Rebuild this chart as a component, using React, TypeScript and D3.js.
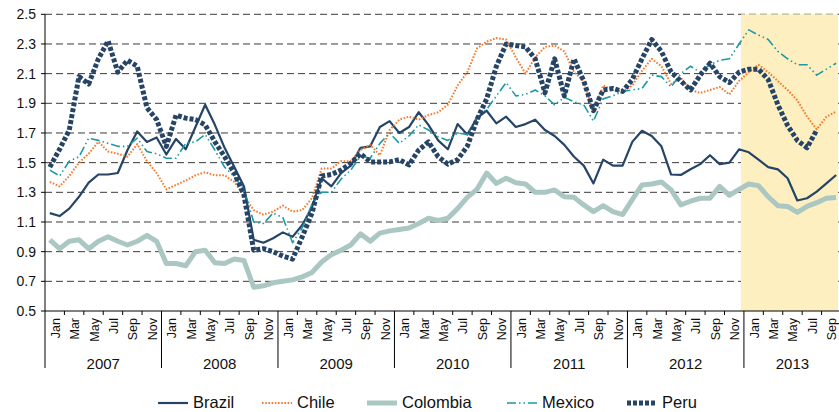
import React from "react";
import * as d3 from "d3";

const years = [2007, 2008, 2009, 2010, 2011, 2012, 2013];
const monthLabels = ["Jan", "Mar", "May", "Jul", "Sep", "Nov"];
const yTicks = [0.5, 0.7, 0.9, 1.1, 1.3, 1.5, 1.7, 1.9, 2.1, 2.3, 2.5];
const monthCount = 82; // Jan 2007 - Oct 2013
const shadeStartIndex = 72; // Jan 2013

const brazil = [
  1.16, 1.14, 1.19, 1.27, 1.365, 1.42, 1.42, 1.43, 1.585, 1.71, 1.64, 1.67,
  1.555, 1.66, 1.59, 1.74, 1.89, 1.755, 1.6, 1.47, 1.34, 0.98, 0.96, 0.99,
  1.03, 1.0, 1.08, 1.2, 1.395, 1.34, 1.43, 1.48, 1.6, 1.61, 1.74, 1.78,
  1.7, 1.74, 1.84, 1.755, 1.65, 1.59, 1.76, 1.69, 1.8, 1.85, 1.765, 1.81,
  1.74, 1.76, 1.79, 1.72, 1.68, 1.62, 1.54, 1.48, 1.36, 1.52, 1.48, 1.48,
  1.64, 1.715, 1.68, 1.61, 1.42, 1.417, 1.455, 1.49, 1.55, 1.49, 1.5, 1.59,
  1.57, 1.52, 1.47, 1.455, 1.395, 1.245, 1.26, 1.305, 1.36, 1.417,
];
const chile = [
  1.37, 1.34, 1.41, 1.5, 1.56, 1.64, 1.575, 1.56, 1.54, 1.625, 1.51, 1.43,
  1.32, 1.35, 1.38, 1.415, 1.435, 1.415, 1.415, 1.37, 1.28, 1.18, 1.15, 1.17,
  1.21, 1.17, 1.18, 1.26, 1.46, 1.46, 1.51, 1.51, 1.585, 1.62, 1.55, 1.72,
  1.79, 1.81, 1.79, 1.82, 1.84, 1.89, 2.02, 2.11, 2.27, 2.316, 2.34, 2.33,
  2.21, 2.1, 2.21, 2.28, 2.29, 2.25, 2.11, 2.05, 1.84, 2.02, 1.99, 1.98,
  2.02, 2.12, 2.2, 2.15, 2.03, 2.07, 1.99, 1.97, 1.99, 2.01, 1.96, 2.05,
  2.11, 2.16, 2.11, 2.05, 1.99, 1.92, 1.81, 1.725, 1.81, 1.845,
];
const colombia = [
  0.98, 0.92, 0.97, 0.98, 0.92, 0.97, 1.0, 0.97, 0.945, 0.97, 1.01, 0.97,
  0.82, 0.82, 0.805, 0.9, 0.91, 0.825, 0.82, 0.85, 0.84, 0.66, 0.67, 0.69,
  0.7, 0.71, 0.73, 0.76, 0.83, 0.88, 0.91, 0.945, 1.02, 0.97, 1.025, 1.04,
  1.05, 1.06, 1.09, 1.125, 1.11, 1.125, 1.19, 1.266, 1.32, 1.43, 1.36, 1.395,
  1.365, 1.356, 1.3, 1.3, 1.316, 1.27, 1.266, 1.215, 1.17, 1.21, 1.17, 1.15,
  1.25, 1.35, 1.356, 1.37, 1.316, 1.215, 1.24, 1.26, 1.26, 1.34, 1.28, 1.32,
  1.356, 1.345, 1.27, 1.21, 1.205, 1.165, 1.205, 1.23, 1.26, 1.265,
];
const mexico = [
  1.45, 1.41, 1.51, 1.54, 1.665, 1.65, 1.63, 1.61, 1.61, 1.665, 1.575, 1.56,
  1.53, 1.53, 1.63, 1.64, 1.69, 1.585, 1.47, 1.405, 1.32, 1.1, 1.09, 1.16,
  1.13, 0.96, 1.06, 1.22, 1.3, 1.3, 1.39, 1.45, 1.545, 1.53, 1.63, 1.7,
  1.63, 1.68, 1.755, 1.72, 1.675, 1.65, 1.7, 1.69, 1.81, 1.86, 1.95, 2.04,
  1.95, 1.96, 1.99, 1.95, 1.89, 1.94, 1.91, 1.89, 1.78, 1.93, 1.95, 1.98,
  1.99, 2.0, 2.09, 2.08, 2.01, 2.1, 2.15, 2.11, 2.16, 2.19, 2.2, 2.3,
  2.395, 2.36, 2.33, 2.25, 2.2, 2.16, 2.16, 2.09, 2.13, 2.17,
];
const peru: (number | null)[] = [
  1.47, 1.59, 1.72, 2.08, 2.03, 2.2, 2.32, 2.11, 2.19, 2.15, 1.87, 1.79,
  1.61, 1.82, 1.8, 1.79, 1.755, 1.64, 1.54, 1.43, 1.28, 0.91, 0.92, 0.9,
  0.87, 0.85, 1.0, 1.16, 1.41, 1.42, 1.45, 1.495, 1.56, 1.505, 1.505, 1.505,
  1.52, 1.485, 1.585, 1.64, 1.54, 1.49, 1.52, 1.61, 1.79, 1.93, 2.15, 2.3,
  2.29, 2.28, 2.2, 1.97, 2.2, 1.95, 2.2, 2.05, 1.85, 1.99, 2.0, 1.98,
  2.06, 2.2, 2.33, 2.25, 2.11, 2.05, 1.99, 2.09, 2.17, 2.08, 2.04, 2.11,
  2.13, 2.13, 2.06, 1.89, 1.75, 1.65, 1.6, 1.72, null, null,
];

const seriesNames = ["Brazil", "Chile", "Colombia", "Mexico", "Peru"];
const seriesData = [brazil, chile, colombia, mexico, peru];

const navy = "#264466";
const styles = [
  { color: navy, width: 2.2, dash: undefined as string | undefined, cap: "butt" },
  { color: "#f47a2e", width: 2, dash: "1.6 1.6", cap: "butt" },
  { color: "#abc7c4", width: 5, dash: undefined, cap: "butt" },
  { color: "#1a9aa7", width: 1.6, dash: "9 3 1.5 3 1.5 3", cap: "butt" },
  { color: navy, width: 5, dash: "4 2", cap: "butt" },
];
const legendX = [158, 262, 367, 507, 627];

const W = 839;
const H = 412;
const left = 45;
const right = 841;
const top = 14.3;
const bottom = 311;
const font = "'Liberation Sans', Arial, sans-serif";

export default function App() {
  const x = d3.scaleLinear().domain([0, monthCount]).range([left, right]);
  const y = d3.scaleLinear().domain([0.5, 2.5]).range([bottom, top]);
  const axisY = y(0.5);

  const line = d3
    .line<number | null>()
    .defined((d) => d !== null)
    .x((_, i) => x(i + 0.5))
    .y((d) => y(d as number));

  const tickIdx = d3.range(0, monthCount + 1, 2);
  const labelIdx = d3.range(0, monthCount - 1, 2);

  return (
    <svg
      width={W}
      height={H}
      style={{ position: "absolute", left: 0, top: 0, background: "#fff" }}
      fontFamily={font}
    >
      {/* gridlines */}
      {yTicks.slice(1).map((t) => (
        <line
          key={"g" + t}
          x1={left}
          x2={W}
          y1={y(t)}
          y2={y(t)}
          stroke="#3a3a3a"
          strokeWidth={1}
          strokeDasharray="7 4"
        />
      ))}
      {/* shaded forecast region */}
      <rect
        x={x(shadeStartIndex) - 3}
        y={y(2.5)}
        width={W - 1 - (x(shadeStartIndex) - 3)}
        height={axisY - y(2.5)}
        fill="#fdefc0"
      />
      {/* series lines */}
      {seriesData.map((s, k) => (
        <path
          key={seriesNames[k]}
          d={line(s as (number | null)[]) || ""}
          fill="none"
          stroke={styles[k].color}
          strokeWidth={styles[k].width}
          strokeDasharray={styles[k].dash}
          strokeLinejoin="round"
          strokeLinecap={styles[k].cap as any}
        />
      ))}
      {/* y axis */}
      <line x1={left} x2={left} y1={y(2.5)} y2={axisY} stroke="#000" />
      {yTicks.map((t) => (
        <g key={"yt" + t}>
          <line x1={left - 4} x2={left} y1={y(t)} y2={y(t)} stroke="#000" />
          <text
            x={left - 9}
            y={y(t)}
            textAnchor="end"
            dominantBaseline="central"
            fontSize={14}
            fill="#111"
          >
            {t.toFixed(1)}
          </text>
        </g>
      ))}
      {/* x axis */}
      <line x1={left} x2={W} y1={axisY} y2={axisY} stroke="#000" />
      {tickIdx.map((i) => (
        <line
          key={"xt" + i}
          x1={x(i)}
          x2={x(i)}
          y1={axisY}
          y2={i % 12 === 0 ? axisY + 57 : axisY + 4}
          stroke="#000"
        />
      ))}
      {labelIdx.map((i) => {
        const cx = x(i + 1) + 1;
        return (
          <text
            key={"ml" + i}
            transform={`translate(${cx},${axisY + 7}) rotate(-90)`}
            textAnchor="end"
            dominantBaseline="central"
            fontSize={12.5}
            fill="#111"
          >
            {monthLabels[(i % 12) / 2]}
          </text>
        );
      })}
      {years.map((yr, k) => {
        const x0 = x(k * 12);
        const x1 = Math.min(x((k + 1) * 12), right);
        return (
          <text
            key={"yr" + yr}
            x={(x0 + x1) / 2}
            y={axisY + 58}
            textAnchor="middle"
            fontSize={15}
            fill="#111"
          >
            {yr}
          </text>
        );
      })}
      {/* legend */}
      {seriesNames.map((name, k) => (
        <g key={"lg" + name}>
          <line
            x1={legendX[k]}
            x2={legendX[k] + 30}
            y1={403}
            y2={403}
            stroke={styles[k].color}
            strokeWidth={styles[k].width}
            strokeDasharray={styles[k].dash}
          />
          <text x={legendX[k] + 35} y={408} fontSize={16.5} fill="#111">
            {name}
          </text>
        </g>
      ))}
    </svg>
  );
}
